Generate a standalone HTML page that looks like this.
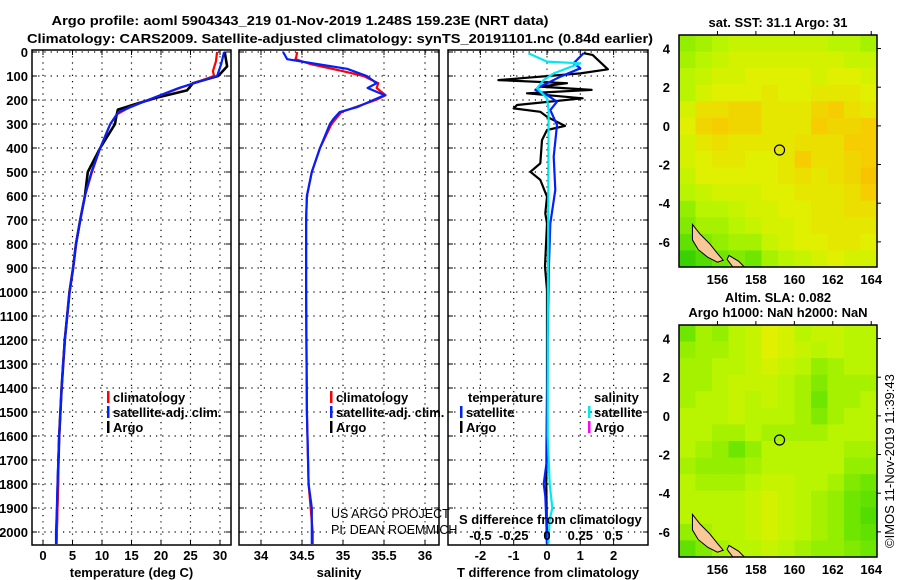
<!DOCTYPE html>
<html><head><meta charset="utf-8"><style>
html,body{margin:0;padding:0;background:#fff;}
svg{display:block;font-family:"Liberation Sans",sans-serif;}
.b{font-weight:bold;font-size:13px;}
.t{font-weight:bold;font-size:13px;}
</style></head><body>
<svg id="fig" width="900" height="580" viewBox="0 0 900 580" xmlns="http://www.w3.org/2000/svg">
<text class="t" x="300" y="25" text-anchor="middle" textLength="497" lengthAdjust="spacingAndGlyphs">Argo profile: aoml 5904343_219 01-Nov-2019 1.248S 159.23E (NRT data)</text>
<text class="t" x="340" y="43" text-anchor="middle" textLength="626" lengthAdjust="spacingAndGlyphs">Climatology: CARS2009. Satellite-adjusted climatology: synTS_20191101.nc (0.84d earlier)</text>
<g id="plots"></g>
</svg>
<script>
// ---------- profile data ----------
const tArgoDepth=[0,30,60,100,115,130,160,190,220,240,270,300,400,500,600,700,800,900,1000,1200,1400,1600,1800,2000,2050];
const tArgo=[30.8,31.0,31.2,29.7,27.5,25.4,24.4,19.3,15.3,12.7,12.4,12.2,9.7,7.6,7.1,6.3,5.6,5.1,4.5,3.7,3.15,2.75,2.5,2.3,2.25];
const tClimDepth=[0,40,80,100,150,200,230,260,300,400,500,600,700,800,900,1000,1100,1200,1300,1400,1500,1600,1700,1800,1900,2000,2050];
const tClim=[29.5,29.3,28.8,29.0,23.2,17.8,14.7,12.5,11.4,9.7,8.3,7.1,6.3,5.6,5.1,4.5,4.1,3.7,3.4,3.15,2.95,2.75,2.6,2.6,2.45,2.35,2.3];
const tSatDepth=[0,50,100,150,200,250,300,400,500,600,700,800,900,1000,1100,1200,1300,1400,1500,1600,1700,1800,1900,2000,2050];
const tSat=[30.7,30.2,29.5,23.0,17.8,12.8,11.4,9.7,8.2,7.1,6.3,5.6,5.1,4.5,4.1,3.7,3.4,3.15,2.95,2.75,2.6,2.45,2.35,2.2,2.2];
const sClimDepth=[0,20,30,50,80,100,130,150,180,200,250,300,400,500,600,700,1000,1500,1800,2000,2050];
const sClim=[34.44,34.43,34.42,34.6,35.0,35.25,35.43,35.41,35.52,35.4,34.98,34.86,34.72,34.62,34.56,34.55,34.55,34.56,34.58,34.63,34.63];
const sSatDepth=[0,30,50,70,100,130,150,180,200,230,250,280,300,400,500,600,700,1000,1500,1800,1900,2000,2050];
const sSat=[34.27,34.32,34.68,35.05,35.29,35.41,35.3,35.51,35.37,35.17,34.96,34.88,34.84,34.72,34.62,34.56,34.55,34.55,34.56,34.58,34.62,34.62,34.62];
const dArgoDepth=[5,12,72,89,117,130,144,158,172,193,221,235,249,270,308,325,367,464,499,533,603,672,714,894,992,1400,1800,2050];
const dArgoT=[1.1,1.37,1.83,1.0,-1.46,0.6,-0.2,1.34,-0.6,1.07,-0.9,-1.0,-0.2,0,0.54,0,-0.15,-0.2,-0.5,-0.2,0,-0.05,0,-0.06,0,0,-0.02,0];
const dSatDepth=[5,47,68,103,144,158,179,207,242,304,436,575,714,922,1200,1700,1750,1800,1850,1950,2050];
const dSatT=[1.1,0.8,1.0,0.4,-0.2,-0.35,0,0.3,0.1,0.3,0.2,0.25,0.1,0.05,0.02,0,-0.05,-0.1,-0.05,-0.02,0];
const dSalDepth=[5,40,47,68,89,117,151,193,242,600,1200,1600,1800,1900,1950,2050];
const dSalS=[-0.14,0,0.25,0.15,0.05,-0.025,-0.075,0,0.012,0.01,0.005,0.005,0.02,0.04,0.02,0.01];
const depthTicks=[0,100,200,300,400,500,600,700,800,900,1000,1100,1200,1300,1400,1500,1600,1700,1800,1900,2000];
const tempTicks=[0,5,10,15,20,25,30];
const salTicks=[34,34.5,35,35.5,36];
const tdTicks=[-2,-1,0,1,2];
const sdTicks=[-0.5,-0.25,0,0.25,0.5];
const sdTickLabels=["-0.5","-0.25","0","0.25","0.5"];
// ---------- map data ----------
const lonTicks=[156,158,160,162,164];
const latTicks=[4,2,0,-2,-4,-6];
const sstGrid=[
[0.4,0.45,0.5,0.55,0.55,0.55,0.55,0.55,0.55,0.5,0.5,0.45],
[0.45,0.5,0.55,0.6,0.6,0.6,0.6,0.6,0.6,0.6,0.55,0.55],
[0.5,0.55,0.6,0.6,0.65,0.65,0.65,0.65,0.6,0.65,0.65,0.6],
[0.5,0.6,0.65,0.65,0.65,0.7,0.65,0.65,0.7,0.7,0.7,0.65],
[0.6,0.75,0.75,0.8,0.8,0.7,0.7,0.7,0.8,0.85,0.75,0.7],
[0.65,0.8,0.85,0.8,0.8,0.7,0.7,0.7,0.85,0.8,0.8,0.85],
[0.6,0.7,0.75,0.7,0.7,0.7,0.7,0.75,0.75,0.75,0.85,0.85],
[0.6,0.65,0.7,0.7,0.65,0.65,0.7,0.85,0.75,0.75,0.8,0.85],
[0.55,0.65,0.65,0.65,0.65,0.65,0.7,0.75,0.7,0.75,0.8,0.9],
[0.5,0.55,0.6,0.6,0.6,0.65,0.65,0.7,0.7,0.7,0.75,0.85],
[0.4,0.5,0.5,0.55,0.6,0.6,0.65,0.65,0.7,0.7,0.75,0.75],
[0.35,0.45,0.45,0.5,0.55,0.6,0.6,0.65,0.7,0.7,0.7,0.7],
[0.25,0.35,0.4,0.45,0.45,0.55,0.6,0.65,0.65,0.7,0.7,0.65],
[0.1,0.2,0.3,0.35,0.3,0.45,0.5,0.55,0.6,0.65,0.6,0.6]];
const slaGrid=[
[0.3,0.45,0.4,0.5,0.55,0.65,0.6,0.5,0.55,0.55,0.5,0.5],
[0.4,0.45,0.45,0.5,0.55,0.65,0.6,0.55,0.5,0.55,0.5,0.5],
[0.45,0.45,0.5,0.5,0.55,0.6,0.55,0.5,0.4,0.45,0.5,0.5],
[0.45,0.45,0.5,0.55,0.55,0.55,0.5,0.45,0.35,0.45,0.45,0.45],
[0.45,0.5,0.5,0.55,0.5,0.55,0.5,0.45,0.3,0.45,0.45,0.5],
[0.5,0.5,0.5,0.55,0.5,0.5,0.5,0.45,0.35,0.45,0.5,0.5],
[0.5,0.5,0.45,0.45,0.5,0.45,0.45,0.45,0.45,0.5,0.5,0.5],
[0.5,0.45,0.4,0.3,0.4,0.5,0.5,0.5,0.5,0.5,0.45,0.45],
[0.45,0.4,0.4,0.4,0.45,0.5,0.5,0.5,0.5,0.5,0.4,0.4],
[0.5,0.45,0.45,0.45,0.5,0.55,0.55,0.5,0.5,0.45,0.35,0.3],
[0.5,0.5,0.5,0.5,0.55,0.6,0.55,0.5,0.45,0.4,0.3,0.25],
[0.5,0.5,0.5,0.5,0.55,0.6,0.55,0.5,0.45,0.4,0.3,0.2],
[0.4,0.45,0.5,0.5,0.55,0.6,0.55,0.5,0.45,0.4,0.3,0.25],
[0.25,0.35,0.45,0.5,0.5,0.55,0.5,0.45,0.4,0.4,0.35,0.3]];
const islandLon=[154.7,155.1,155.6,156.0,156.3,156.0,155.5,155.0,154.7];
const islandLat=[-5.1,-5.6,-6.1,-6.6,-6.95,-7.05,-6.8,-6.4,-5.9];
const island2Lon=[156.6,157.1,157.4,156.8,156.5];
const island2Lat=[-6.7,-7.0,-7.3,-7.3,-6.9];
const floatLon=159.23, floatLat=-1.248;

const NS="http://www.w3.org/2000/svg";
const root=document.getElementById('plots');
function el(tag,attrs,parent,txt){const e=document.createElementNS(NS,tag);for(const k in attrs)e.setAttribute(k,attrs[k]);if(txt!==undefined)e.textContent=txt;(parent||root).appendChild(e);return e;}
const yD=d=>52+0.24*d;
const TOP=50,BOT=545;
function panel(name,x0,x1,xs,ticks,labels,title,gridTicks){
  const g=el('g',{});
  
  
  depthTicks.forEach(d=>{const l=el('line',{x1:x0,x2:x1,y1:yD(d),y2:yD(d),stroke:'#000','stroke-width':1.2,'stroke-dasharray':'1.2 5'},g);
    
    el('line',{x1:x0,x2:x0+5,y1:yD(d),y2:yD(d),stroke:'#000'},g);el('line',{x1:x1-5,x2:x1,y1:yD(d),y2:yD(d),stroke:'#000'},g);});
  (gridTicks||ticks).forEach(v=>{const x=xs(v);const l=el('line',{x1:x,x2:x,y1:TOP,y2:BOT,stroke:'#000','stroke-width':1.2,'stroke-dasharray':'1.2 5'},g);
    
    el('line',{x1:x,x2:x,y1:BOT-5,y2:BOT,stroke:'#000'},g);el('line',{x1:x,x2:x,y1:TOP,y2:TOP+5,stroke:'#000'},g);});
  ticks.forEach((v,i)=>{const t=el('text',{x:xs(v),y:560,'text-anchor':'middle',class:'b'},g,labels[i]);
    });
  const tt=el('text',{x:(x0+x1)/2,y:577,'text-anchor':'middle',class:'b'},g,title);
  
  return g;
}
function frame(g,x0,x1){const r=el('rect',{x:x0,y:TOP,width:x1-x0,height:BOT-TOP,fill:'none',stroke:'#000','stroke-width':1.5},g);
  }
function line(g,xs,vals,depths,color,name,w){
  const pts=vals.map((v,i)=>xs(v).toFixed(1)+','+yD(depths[i]).toFixed(1)).join(' ');
  const p=el('polyline',{points:pts,fill:'none',stroke:color,'stroke-width':w||2.2,'stroke-linejoin':'round'},g);
  }
function legendItem(g,x,y,color,txt,name){
  if(color){el('rect',{x:x,y:y-11,width:2.5,height:12,fill:color},g);}
  const t=el('text',{x:x+6,y:y,class:'b'},g,txt);
  }

depthTicks.forEach(d=>{const t=el('text',{x:28,y:yD(d)+5,'text-anchor':'end',class:'b'},root,String(d));
  });

const xT=t=>43+5.9*t;
const g1=panel('temperature-panel',32,231,xT,tempTicks,tempTicks.map(String),'temperature (deg C)');
line(g1,xT,tArgo,tArgoDepth,'#000','argo-temperature-line',2.6);
line(g1,xT,tClim,tClimDepth,'#f00','climatology-temperature-line');
line(g1,xT,tSat,tSatDepth,'#0020ff','satellite-temperature-line');
frame(g1,32,231);
legendItem(g1,107,402,'#f00','climatology','legend-climatology');
legendItem(g1,107,417,'#0020ff','satellite-adj. clim.','legend-satellite');
legendItem(g1,107,432,'#000','Argo','legend-argo');

const xS=s=>261+82*(s-34);
const g2=panel('salinity-panel',239,439,xS,salTicks,salTicks.map(String),'salinity');
line(g2,xS,sClim,sClimDepth,'#f00','climatology-salinity-line');
line(g2,xS,sSat,sSatDepth,'#0020ff','satellite-salinity-line');
frame(g2,239,439);
legendItem(g2,330,402,'#f00','climatology','legend-climatology');
legendItem(g2,330,417,'#0020ff','satellite-adj. clim.','legend-satellite');
legendItem(g2,330,432,'#000','Argo','legend-argo');
const c1=el('text',{x:331,y:518,'font-size':'12.5'},g2,'US ARGO PROJECT');
const c2=el('text',{x:331,y:534,'font-size':'12.5'},g2,'PI: DEAN ROEMMICH');

const xTd=t=>547+33.3*t;
const xSd=s=>547+133.2*s;
const g3=panel('difference-panel',448,648,xTd,tdTicks,tdTicks.map(String),'T difference from climatology');
line(g3,xTd,dArgoT,dArgoDepth,'#000','argo-temperature-difference-line');
line(g3,xTd,dSatT,dSatDepth,'#0020ff','satellite-temperature-difference-line');
line(g3,xSd,dSalS,dSalDepth,'#00e8f0','satellite-salinity-difference-line');
frame(g3,448,648);
const lt=el('text',{x:468,y:402,class:'b'},g3,'temperature');
legendItem(g3,460,417,'#0020ff','satellite','legend-t-satellite');
legendItem(g3,460,432,'#000','Argo','legend-t-argo');
const ls=el('text',{x:594,y:402,class:'b'},g3,'salinity');
legendItem(g3,588,417,'#00e8f0','satellite','legend-s-satellite');
legendItem(g3,588,432,'#f0f','Argo','legend-s-argo');
const sdt=el('text',{x:459,y:524,class:'b'},g3,'S difference from climatology');
sdTicks.forEach((v,i)=>{const t=el('text',{x:xSd(v),y:540,'text-anchor':'middle',class:'b'},g3,sdTickLabels[i]);
  });

const LON0=154.0,LON1=164.3,LAT0=4.7,LAT1=-7.3;
const MX0=679,MX1=877;
const stops=[[0,[30,200,0]],[0.3,[110,230,0]],[0.5,[185,245,0]],[0.65,[225,240,0]],[0.85,[245,205,0]],[1,[248,180,0]]];
function cmap(v){for(let i=1;i<stops.length;i++){if(v<=stops[i][0]){const a=stops[i-1],b=stops[i];const f=(v-a[0])/(b[0]-a[0]);
  return 'rgb('+a[1].map((c,k)=>Math.round(c+f*(b[1][k]-c))).join(',')+')';}}return 'rgb(248,180,0)';}
function drawMap(name,my0,my1,grid,titles){
  const g=el('g',{});
  
  
  const xL=lon=>MX0+(lon-LON0)/(LON1-LON0)*(MX1-MX0);
  const yL=lat=>my0+(LAT0-lat)/(LAT0-LAT1)*(my1-my0);
  const rows=grid.length,cols=grid[0].length;
  const dLon=(LON1-LON0)/cols,dLat=(LAT0-LAT1)/rows;
  grid.forEach((row,r)=>row.forEach((v,c)=>{
    const x=xL(LON0+c*dLon),y=yL(LAT0-r*dLat);
    const cell=el('rect',{x:x.toFixed(2),y:y.toFixed(2),width:(xL(LON0+(c+1)*dLon)-x+0.5).toFixed(2),height:(yL(LAT0-(r+1)*dLat)-y+0.5).toFixed(2),fill:cmap(v)},g);
    }));
  const isl=el('polygon',{points:islandLon.map((v,i)=>xL(v)+','+yL(islandLat[i])).join(' '),fill:'#f8c898',stroke:'#000','stroke-width':1},g);
  
  const isl2=el('polygon',{points:island2Lon.map((v,i)=>xL(v)+','+yL(island2Lat[i])).join(' '),fill:'#f8c898',stroke:'#000','stroke-width':1},g);
  
  const fl=el('circle',{cx:xL(floatLon),cy:yL(floatLat),r:5,fill:'none',stroke:'#000','stroke-width':1.2},g);
  
  const fr=el('rect',{x:MX0,y:my0,width:MX1-MX0,height:my1-my0,fill:'none',stroke:'#000','stroke-width':1.5},g);
  
  lonTicks.forEach(v=>{el('line',{x1:xL(v),x2:xL(v),y1:my0,y2:my0-4,stroke:'#000'},g);
    const t=el('text',{x:xL(v),y:my1+17,'text-anchor':'middle',class:'b'},g,String(v));
    });
  latTicks.forEach(v=>{el('line',{x1:MX1,x2:MX1+4,y1:yL(v),y2:yL(v),stroke:'#000'},g);
    const t=el('text',{x:670,y:yL(v)+5,'text-anchor':'end',class:'b'},g,String(v));
    });
  titles.forEach((s,i)=>{const t=el('text',{x:778,y:my0-(titles.length-i-1)*15-8,'text-anchor':'middle',class:'b'},g,s);
    });
}
drawMap('sst-map',35,267,sstGrid,['sat. SST: 31.1 Argo: 31']);
drawMap('sla-map',325,557,slaGrid,['Altim. SLA: 0.082','Argo h1000: NaN h2000: NaN']);
const im=el('text',{x:0,y:0,'font-size':'13',transform:'translate(894,548) rotate(-90)'},root,'©IMOS 11-Nov-2019 11:39:43');

</script>
</body></html>
